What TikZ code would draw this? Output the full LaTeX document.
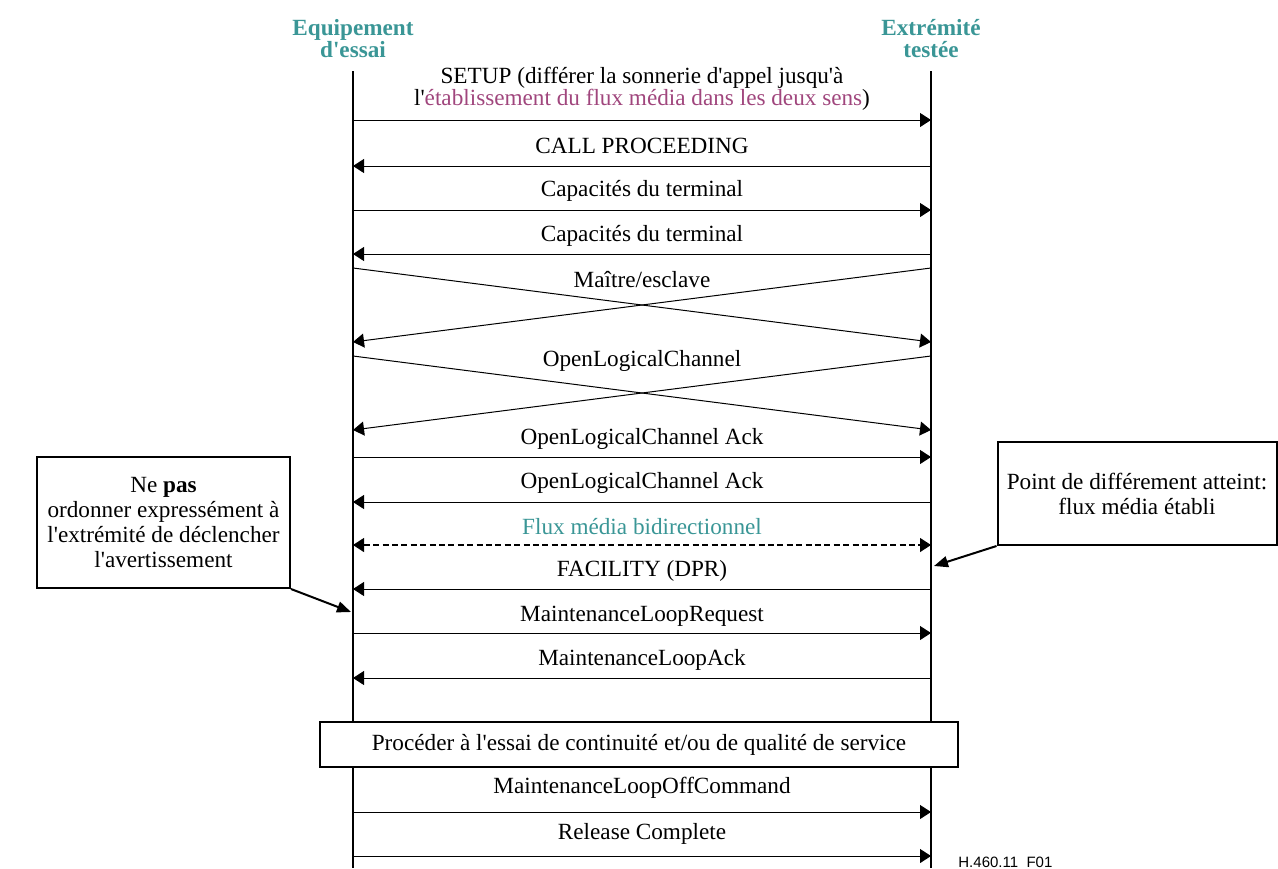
\documentclass[tikz,border=0pt]{standalone}
\usepackage{fontspec}
\setmainfont{Liberation Serif}[Ligatures=TeXOff]
\newfontfamily\figfont{Liberation Sans}
\usetikzlibrary{arrows.meta}

\definecolor{headteal}{RGB}{58,150,150}
\definecolor{mediapurple}{RGB}{160,70,125}

\begin{document}
\begin{tikzpicture}[x=0.5pt, y=-0.5pt,
    every node/.style={font=\fontsize{11.6}{11}\selectfont, inner sep=0pt},
    head/.style={text=headteal, font=\fontsize{11.6}{11}\selectfont\bfseries, align=center},
    lifeline/.style={line width=1pt},
    msg/.style={line width=0.5pt, -{Triangle[length=5.5pt, width=7pt]}},
    media/.style={line width=0.6pt, dash pattern=on 3pt off 1.7pt,
        {Triangle[length=5.5pt, width=7pt]}-{Triangle[length=5.5pt, width=7pt]}},
    notebox/.style={draw, line width=1pt, fill=white, align=center,
        font=\fontsize{11.6}{12.5}\selectfont},
    pointer/.style={line width=1pt, -{Triangle[length=7pt, width=5.5pt]}}]

    \useasboundingbox (0,0) rectangle (1278,868);

    % Entities
    \node[head] (test) at (353,39) {Equipement\\d'essai};
    \node[head] (sut) at (931,39) {Extrémité\\testée};

    % Lifelines
    \coordinate (test top) at (353,71);
    \coordinate (test bot) at (353,868);
    \coordinate (sut top) at (931,71);
    \coordinate (sut bot) at (931,868);
    \draw[lifeline] (test top) -- (test bot);
    \draw[lifeline] (sut top) -- (sut bot);

    % Call setup
    \node[align=center] (setup) at (642,89) {SETUP (différer la sonnerie d'appel jusqu'à\\
        l'\textcolor{mediapurple}{établissement du flux média dans les deux sens})};
    \coordinate (l1) at (353,120); \coordinate (r1) at (931,120);
    \draw[msg] (l1) -- (r1);

    \node (proceed) at (642,146) {CALL PROCEEDING};
    \coordinate (l2) at (353,166); \coordinate (r2) at (931,166);
    \draw[msg] (r2) -- (l2);

    % Capability exchange
    \node (cap1) at (642,191) {Capacités du terminal};
    \coordinate (l3) at (353,210); \coordinate (r3) at (931,210);
    \draw[msg] (l3) -- (r3);

    \node (cap2) at (642,236) {Capacités du terminal};
    \coordinate (l4) at (353,254); \coordinate (r4) at (931,254);
    \draw[msg] (r4) -- (l4);

    % Master/slave (crossing)
    \coordinate (l5a) at (353,268); \coordinate (r5a) at (931,268);
    \coordinate (l5b) at (353,342); \coordinate (r5b) at (931,342);
    \draw[msg] (l5a) -- (r5b);
    \draw[msg] (r5a) -- (l5b);
    \node[fill=white, inner sep=1pt] (ms) at (642,280) {Maître/esclave};

    % Logical channels (crossing)
    \coordinate (l6a) at (353,356); \coordinate (r6a) at (931,356);
    \coordinate (l6b) at (353,430); \coordinate (r6b) at (931,430);
    \draw[msg] (l6a) -- (r6b);
    \draw[msg] (r6a) -- (l6b);
    \node[fill=white, inner sep=1pt] (olc) at (642,361) {OpenLogicalChannel};

    \node (ack1) at (642,439) {OpenLogicalChannel Ack};
    \coordinate (l7) at (353,457); \coordinate (r7) at (931,457);
    \draw[msg] (l7) -- (r7);

    \node (ack2) at (642,483) {OpenLogicalChannel Ack};
    \coordinate (l8) at (353,502); \coordinate (r8) at (931,502);
    \draw[msg] (r8) -- (l8);

    % Media flow
    \node[text=headteal] (flux) at (642,527) {Flux média bidirectionnel};
    \coordinate (l9) at (353,545); \coordinate (r9) at (931,545);
    \draw[media] (l9) -- (r9);

    % Maintenance loop
    \node (fac) at (642,571) {FACILITY (DPR)};
    \coordinate (l10) at (353,589); \coordinate (r10) at (931,589);
    \draw[msg] (r10) -- (l10);

    \node (mlr) at (642,616) {MaintenanceLoopRequest};
    \coordinate (l11) at (353,633); \coordinate (r11) at (931,633);
    \draw[msg] (l11) -- (r11);

    \node (mla) at (642,660) {MaintenanceLoopAck};
    \coordinate (l12) at (353,678); \coordinate (r12) at (931,678);
    \draw[msg] (r12) -- (l12);

    % Test phase
    \node[notebox, minimum width=319pt, minimum height=22.5pt] (qos) at (639,744.5)
        {Procéder à l'essai de continuité et/ou de qualité de service};

    \node (off) at (642,788) {MaintenanceLoopOffCommand};
    \coordinate (l13) at (353,812); \coordinate (r13) at (931,812);
    \draw[msg] (l13) -- (r13);

    \node (rel) at (642,834) {Release Complete};
    \coordinate (l14) at (353,856); \coordinate (r14) at (931,856);
    \draw[msg] (l14) -- (r14);

    % Notes
    \node[notebox, minimum width=126.5pt, minimum height=65.5pt] (notwarn) at (163.5,522.5)
        {Ne \textbf{pas}\\ordonner expressément à\\l'extrémité de déclencher\\l'avertissement};
    \coordinate (warnpt) at (351,612);
    \draw[pointer] (notwarn.south east) -- (warnpt);

    \node[notebox, minimum width=139.5pt, minimum height=51.5pt] (reached) at (1137,493.5)
        {Point de différement atteint:\\flux média établi};
    \coordinate (reachpt) at (934,566);
    \draw[pointer] (reached.south west) -- (reachpt);

    % Figure id
    \node[font=\figfont\fontsize{7.5}{8}\selectfont, anchor=base west] (figid) at (958,867) {H.460.11\_F01};

\end{tikzpicture}
\end{document}
